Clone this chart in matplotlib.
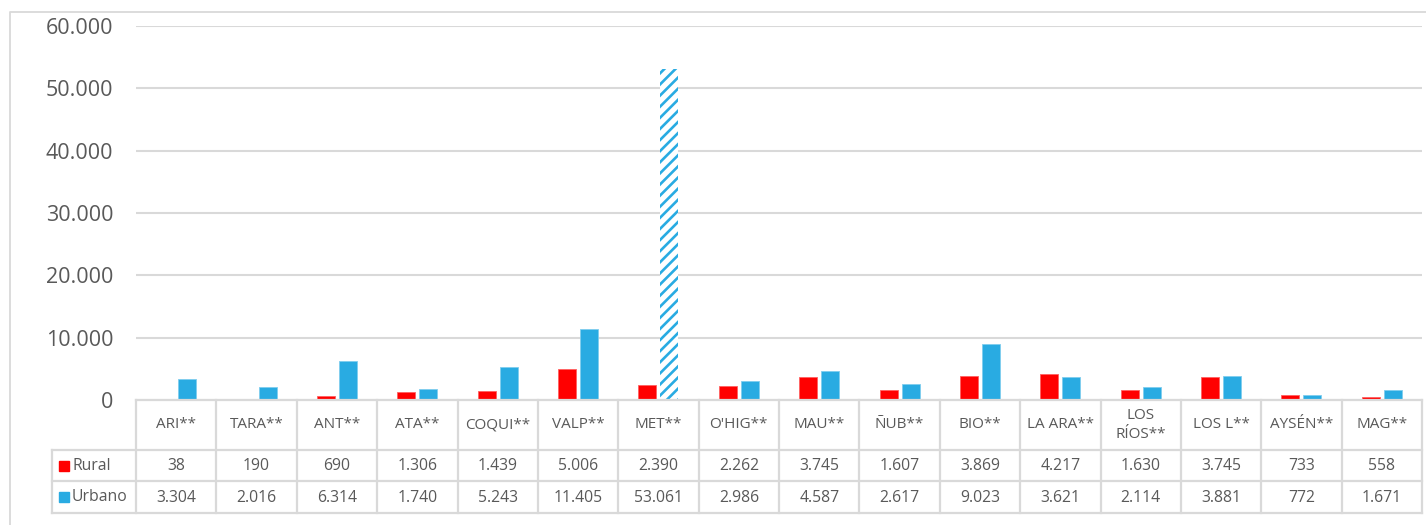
import matplotlib
matplotlib.use("Agg")
import matplotlib.pyplot as plt
from matplotlib.patches import Rectangle
import numpy as np

categories = ["ARI**", "TARA**", "ANT**", "ATA**", "COQUI**", "VALP**", "MET**", "O'HIG**",
              "MAU**", "ÑUB**", "BIO**", "LA ARA**", "LOS\nRÍOS**", "LOS L**", "AYSÉN**", "MAG**"]
rural = [38, 190, 690, 1306, 1439, 5006, 2390, 2262, 3745, 1607, 3869, 4217, 1630, 3745, 733, 558]
urbano = [3304, 2016, 6314, 1740, 5243, 11405, 53061, 2986, 4587, 2617, 9023, 3621, 2114, 3881, 772, 1671]
series_names = ["Rural", "Urbano"]
yticks = [0, 10000, 20000, 30000, 40000, 50000, 60000]

RED = "#FF0000"
BLUE = "#29ABE2"
GRID = "#D9D9D9"
TXT = "#595959"

plt.rcParams['font.family'] = ['Open Sans', 'DejaVu Sans']
plt.rcParams['hatch.linewidth'] = 1.9

W, H = 1426, 525
fig = plt.figure(figsize=(W / 100, H / 100), dpi=100)

def px_rect(x0, y0, x1, y1):
    return [x0 / W, 1 - y1 / H, (x1 - x0) / W, (y1 - y0) / H]

# outer frame
frame = fig.add_axes(px_rect(0, 0, W, H))
frame.set_xlim(0, W)
frame.set_ylim(H, 0)
frame.axis("off")
frame.plot([10, 10, W + 5], [H + 5, 12, 12], color=GRID, lw=1.3, clip_on=False)

left, right, top, zero = 136, 1422, 26, 400
ax = fig.add_axes(px_rect(left, top, right, zero))
n = len(categories)
x = np.arange(n) + 0.5
bw = 0.224
off = 0.137
ax.bar(x - off, rural, width=bw, color=RED, edgecolor="#FF6060", linewidth=0.6, zorder=3)
bars = ax.bar(x + off, urbano, width=bw, color=BLUE, edgecolor="#7FCDEE", linewidth=0.6, zorder=3)
# the MET bar is hatched
imax = int(np.argmax(urbano))
b = bars[imax]
b.set_facecolor("white")
b.set_edgecolor(BLUE)
b.set_linewidth(0)
b.set_hatch("///")

ax.set_xlim(0, n)
ax.set_ylim(0, 60000)
ax.set_yticks(yticks)
ax.set_yticklabels([f"{v:,}".replace(",", ".") for v in yticks], fontsize=15.5, color=TXT)
ax.tick_params(axis="y", length=0, pad=16.5)
ax.set_xticks([])
ax.grid(axis="y", color=GRID, lw=1.5, zorder=0)
for s in ax.spines.values():
    s.set_visible(False)

# data table
tleft = 52
r0, r1, r2, r3 = 400, 450, 481, 513
tab = fig.add_axes(px_rect(0, 0, W, H))
tab.set_xlim(0, W)
tab.set_ylim(H, 0)
tab.axis("off")
cw = (right - left) / n
lk = dict(color=GRID, lw=1.6, solid_capstyle="projecting")
tab.plot([left, right], [r0, r0], **lk)
for yy in (r1, r2, r3):
    tab.plot([tleft, right], [yy, yy], **lk)
tab.plot([tleft, tleft], [r1, r3], **lk)
for i in range(n + 1):
    xx = left + i * cw
    tab.plot([xx, xx], [r0, r3], **lk)

def fmt(v):
    return f"{v:,}".replace(",", ".")

for i, cat in enumerate(categories):
    cx = left + (i + 0.5) * cw
    tab.text(cx, (r0 + r1) / 2, cat, ha="center", va="center", fontsize=11,
             color=TXT, linespacing=1.35)
    tab.text(cx, (r1 + r2) / 2 + 1, fmt(rural[i]), ha="center", va="center", fontsize=11.3, color=TXT)
    tab.text(cx, (r2 + r3) / 2 + 1, fmt(urbano[i]), ha="center", va="center", fontsize=11.3, color=TXT)

for name, col, (ya, yb) in zip(series_names, [RED, BLUE], [(r1, r2), (r2, r3)]):
    cy = (ya + yb) / 2
    tab.add_patch(Rectangle((59, cy - 5), 10, 10, color=col))
    tab.text(72, cy, name, ha="left", va="center", fontsize=11.3, color=TXT)

fig.savefig("out.png", dpi=100)
